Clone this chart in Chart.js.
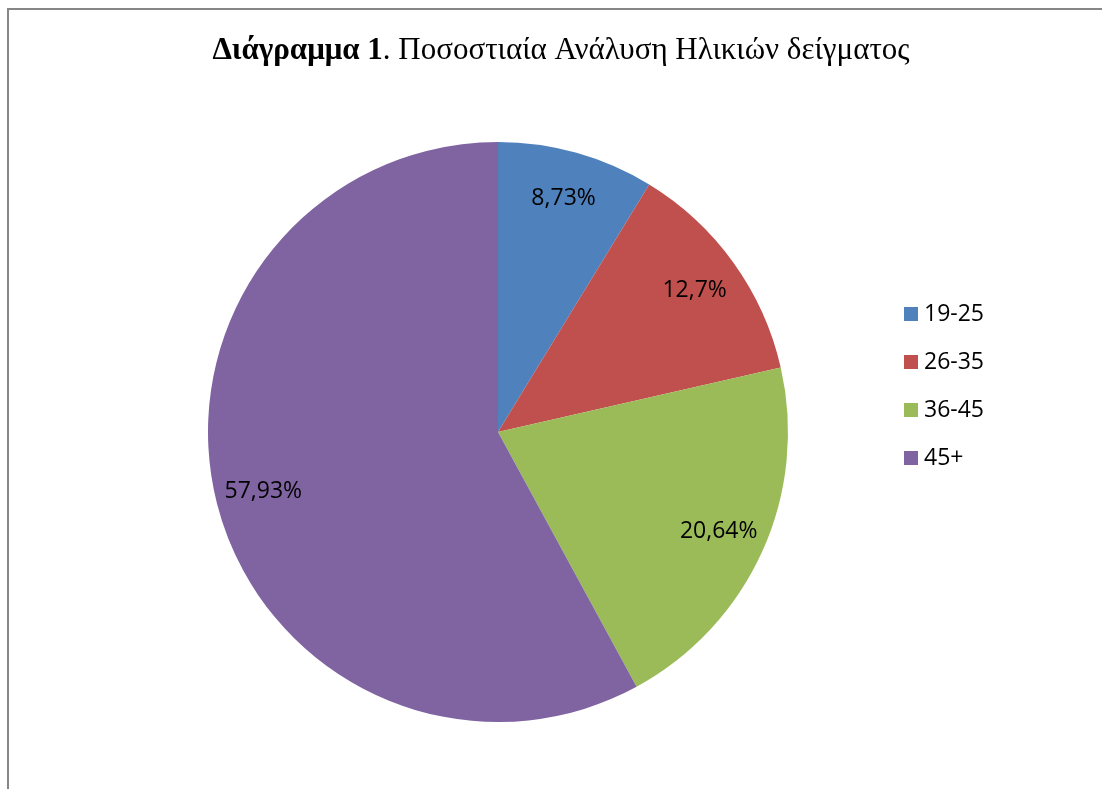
<!DOCTYPE html>
<html>
<head>
<meta charset="utf-8">
<script src="https://cdn.jsdelivr.net/npm/chart.js@4.4.0/dist/chart.umd.min.js"></script>
<style>
  html, body { margin: 0; padding: 0; background: #ffffff; }
  #wrap { position: relative; width: 1102px; height: 789px; }
</style>
</head>
<body>
<div id="wrap"><canvas id="c"></canvas></div>
<script>
const categories = ['19-25', '26-35', '36-45', '45+'];
const values = [8.73, 12.7, 20.64, 57.93];
const colors = ['#4F81BD', '#C0504D', '#9BBB59', '#8064A2'];
const titleBold = 'Διάγραμμα 1';
const titleRest = '. Ποσοστιαία Ανάλυση Ηλικιών δείγματος';

const LABEL_FONT = '"Open Sans", "Noto Sans", sans-serif';
const TITLE_FONT = '"Liberation Serif", "DejaVu Serif", serif';

const framePlugin = {
  id: 'frame',
  beforeDraw(chart) {
    const ctx = chart.ctx;
    ctx.save();
    ctx.fillStyle = '#ffffff';
    ctx.fillRect(0, 0, chart.width, chart.height);
    ctx.strokeStyle = '#868686';
    ctx.lineWidth = 2;
    ctx.beginPath();
    ctx.moveTo(8, chart.height);
    ctx.lineTo(8, 9);
    ctx.lineTo(chart.width, 9);
    ctx.stroke();
    ctx.restore();
  }
};

const titlePlugin = {
  id: 'mixedTitle',
  afterDraw(chart) {
    const ctx = chart.ctx;
    ctx.save();
    const targetWidth = 698;
    let size = 28;
    const measure = (s) => {
      ctx.font = 'bold ' + s + 'px ' + TITLE_FONT;
      const w1 = ctx.measureText(titleBold).width;
      ctx.font = s + 'px ' + TITLE_FONT;
      const w2 = ctx.measureText(titleRest).width;
      return [w1, w2];
    };
    let [w1, w2] = measure(size);
    size = Math.min(31, size * targetWidth / (w1 + w2));
    [w1, w2] = measure(size);
    const startX = 561 - (w1 + w2) / 2;
    const baseY = 59;
    ctx.fillStyle = '#000000';
    ctx.textBaseline = 'alphabetic';
    ctx.textAlign = 'left';
    ctx.font = 'bold ' + size + 'px ' + TITLE_FONT;
    ctx.fillText(titleBold, startX, baseY);
    ctx.font = size + 'px ' + TITLE_FONT;
    ctx.fillText(titleRest, startX + w1, baseY);
    ctx.restore();
  }
};

const labelPlugin = {
  id: 'sliceLabels',
  afterDatasetsDraw(chart) {
    const ctx = chart.ctx;
    const meta = chart.getDatasetMeta(0);
    const ds = chart.data.datasets[0];
    ctx.save();
    ctx.fillStyle = '#000000';
    ctx.font = '23px ' + LABEL_FONT;
    ctx.textAlign = 'center';
    ctx.textBaseline = 'middle';
    meta.data.forEach((arc, i) => {
      const p = arc.getProps(['x', 'y', 'startAngle', 'endAngle', 'outerRadius'], true);
      const mid = (p.startAngle + p.endAngle) / 2;
      const r = p.outerRadius * 0.835;
      const x = p.x + Math.cos(mid) * r;
      const y = p.y + Math.sin(mid) * r;
      const txt = String(ds.data[i]).replace('.', ',') + '%';
      ctx.fillText(txt, x, y);
    });
    ctx.restore();
  }
};

const legendPlugin = {
  id: 'sideLegend',
  afterDraw(chart) {
    const ctx = chart.ctx;
    const ds = chart.data.datasets[0];
    ctx.save();
    ctx.font = '23px ' + LABEL_FONT;
    ctx.textAlign = 'left';
    ctx.textBaseline = 'middle';
    chart.data.labels.forEach((lab, i) => {
      const cy = 314 + i * 48;
      ctx.fillStyle = ds.backgroundColor[i];
      ctx.fillRect(904, cy - 7, 14, 14);
      ctx.fillStyle = '#000000';
      ctx.fillText(lab, 924, cy);
    });
    ctx.restore();
  }
};

new Chart(document.getElementById('c'), {
  type: 'pie',
  data: {
    labels: categories,
    datasets: [{
      data: values,
      backgroundColor: colors,
      borderWidth: 0
    }]
  },
  options: {
    responsive: true,
    maintainAspectRatio: false,
    animation: false,
    layout: { padding: { left: 208, right: 314, top: 142, bottom: 67 } },
    plugins: {
      legend: { display: false },
      title: { display: false },
      tooltip: { enabled: false }
    }
  },
  plugins: [framePlugin, titlePlugin, labelPlugin, legendPlugin]
});
</script>
</body>
</html>
